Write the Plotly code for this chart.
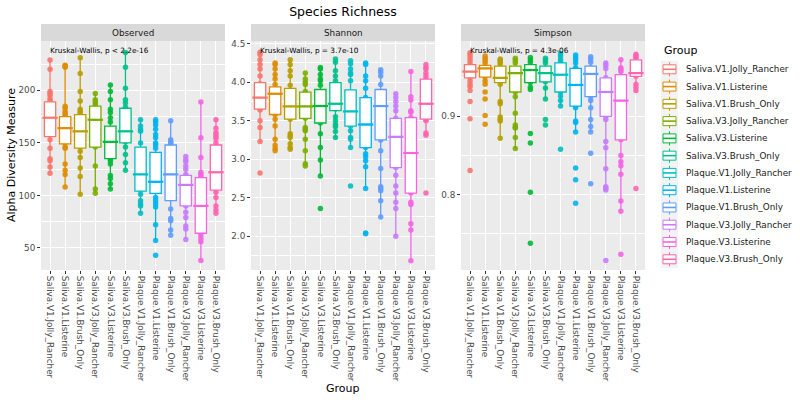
import plotly.graph_objects as go

GROUPS = ["Saliva.V1.Jolly_Rancher", "Saliva.V1.Listerine", "Saliva.V1.Brush_Only",
          "Saliva.V3.Jolly_Rancher", "Saliva.V3.Listerine", "Saliva.V3.Brush_Only",
          "Plaque.V1.Jolly_Rancher", "Plaque.V1.Listerine", "Plaque.V1.Brush_Only",
          "Plaque.V3.Jolly_Rancher", "Plaque.V3.Listerine", "Plaque.V3.Brush_Only"]
COLORS = ["#F8766D", "#DE8C00", "#B79F00", "#7CAE00", "#00BA38", "#00C08B",
          "#00BFC4", "#00B4F0", "#619CFF", "#C77CFF", "#F564E3", "#FF64B0"]
METRICS = ["Observed", "Shannon", "Simpson"]
PVALUES = ["Kruskal-Wallis, p < 2.2e-16", "Kruskal-Wallis, p = 3.7e-10", "Kruskal-Wallis, p = 4.3e-06"]

# ---- Observed ----
OBS_POINTS = [
    [229, 220, 199, 197, 195, 192, 190, 186, 181, 176, 172, 168, 163, 158, 153, 145, 135, 133, 127, 121],
    [224, 223, 222, 185, 183, 180, 178, 176, 172, 168, 160, 155, 150, 146, 145, 130, 124, 120, 108],
    [231, 216, 199, 190, 182, 180, 178, 170, 165, 158, 150, 146, 142, 136, 126, 118, 101],
    [197, 191, 189, 187, 185, 180, 175, 168, 160, 150, 146, 128, 106, 102],
    [205, 199, 191, 182, 179, 174, 170, 160, 150, 140, 135, 133, 130, 119, 116, 111, 106],
    [236, 222, 202, 191, 188, 184, 175, 165, 160, 155, 151, 146, 139, 131, 124],
    [172, 166, 163, 161, 150, 140, 130, 120, 110, 105, 101, 95, 92, 90, 83],
    [172, 170, 167, 163, 158, 155, 150, 148, 145, 130, 120, 110, 105, 98, 95, 92, 89, 72, 57, 43],
    [171, 153, 151, 150, 149, 140, 125, 115, 105, 97, 87, 78, 76, 67, 62],
    [137, 134, 132, 128, 125, 120, 115, 110, 100, 92, 90, 84, 79, 71, 68, 58],
    [189, 155, 136, 122, 120, 118, 110, 100, 90, 80, 70, 65, 62, 59, 56, 38],
    [172, 164, 160, 158, 156, 154, 150, 140, 125, 115, 106, 103, 98, 90, 86, 83],
]
OBS_Q1 = [156, 149, 145, 146, 135, 150, 104, 102, 95, 90, 64, 105]
OBS_MED = [174, 164, 161, 172, 151, 161, 120, 113, 120, 110, 90, 122]
OBS_Q3 = [189, 175, 177, 185, 166, 183, 146, 141, 148, 119, 117, 148]
OBS_LO = [121, 108, 101, 102, 106, 124, 83, 57, 62, 58, 38, 83]
OBS_HI = [229, 224, 231, 197, 205, 236, 172, 172, 171, 137, 189, 172]

# ---- Shannon ----
SHA_POINTS = [
    [4.39, 4.36, 4.29, 4.23, 4.17, 4.08, 3.98, 3.90, 3.80, 3.72, 3.66, 3.64, 3.50, 3.41, 3.23, 2.82],
    [4.25, 4.23, 4.17, 4.10, 4.04, 3.97, 3.92, 3.85, 3.75, 3.65, 3.58, 3.52, 3.43, 3.26, 3.18, 3.14, 3.11],
    [4.29, 4.23, 4.15, 4.08, 3.96, 3.88, 3.78, 3.69, 3.60, 3.52, 3.33, 3.30, 3.28, 3.20, 3.15, 3.13],
    [4.12, 4.04, 4.00, 3.97, 3.88, 3.75, 3.69, 3.60, 3.53, 3.41, 3.39, 3.37, 3.26, 3.11, 2.94, 2.91],
    [4.19, 4.17, 4.10, 4.04, 4.02, 3.96, 3.85, 3.69, 3.55, 3.47, 3.33, 3.15, 2.99, 2.78, 2.36],
    [4.30, 4.26, 4.15, 4.08, 4.02, 3.95, 3.85, 3.72, 3.65, 3.55, 3.50, 3.45, 3.42, 3.36, 3.28],
    [4.28, 4.24, 4.17, 4.12, 4.10, 4.02, 3.85, 3.62, 3.50, 3.43, 3.37, 3.28, 3.26, 3.15, 2.65],
    [4.25, 4.23, 4.08, 4.02, 3.92, 3.80, 3.60, 3.45, 3.30, 3.15, 3.07, 3.03, 2.98, 2.90, 2.62, 2.04, 2.03],
    [4.16, 4.13, 4.08, 3.97, 3.80, 3.69, 3.50, 3.25, 3.11, 2.88, 2.64, 2.62, 2.59, 2.46, 2.25],
    [3.85, 3.80, 3.75, 3.69, 3.63, 3.53, 3.40, 3.29, 3.10, 2.89, 2.79, 2.65, 2.56, 2.44, 2.36, 2.00],
    [4.14, 3.81, 3.77, 3.63, 3.61, 3.54, 3.30, 3.08, 2.80, 2.56, 2.44, 2.41, 2.16, 2.08, 1.68],
    [4.23, 4.19, 4.17, 4.12, 4.08, 4.04, 3.90, 3.72, 3.60, 3.52, 3.50, 3.34, 3.31, 2.56],
]
SHA_Q1 = [3.65, 3.58, 3.52, 3.53, 3.47, 3.63, 3.43, 3.15, 3.25, 2.89, 2.56, 3.52]
SHA_MED = [3.80, 3.85, 3.685, 3.685, 3.69, 3.72, 3.62, 3.45, 3.69, 3.29, 3.08, 3.72]
SHA_Q3 = [3.995, 3.94, 3.92, 3.87, 3.905, 3.995, 3.90, 3.80, 3.905, 3.53, 3.54, 4.04]
SHA_LO = [3.23, 3.11, 3.13, 2.91, 2.78, 3.28, 3.15, 2.62, 2.25, 2.00, 1.68, 3.31]
SHA_HI = [4.39, 4.25, 4.29, 4.12, 4.19, 4.30, 4.28, 4.25, 4.16, 3.85, 4.14, 4.23]

# ---- Simpson ----
SIM_POINTS = [
    [0.981, 0.978, 0.975, 0.971, 0.967, 0.960, 0.953, 0.949, 0.945, 0.941, 0.938, 0.933, 0.919, 0.897, 0.831],
    [0.977, 0.974, 0.971, 0.968, 0.962, 0.955, 0.950, 0.945, 0.941, 0.931, 0.922, 0.901, 0.890],
    [0.973, 0.971, 0.969, 0.966, 0.955, 0.946, 0.941, 0.919, 0.916, 0.899, 0.896, 0.894, 0.872],
    [0.974, 0.971, 0.968, 0.960, 0.950, 0.940, 0.931, 0.925, 0.904, 0.889, 0.886, 0.885, 0.873, 0.859],
    [0.975, 0.972, 0.969, 0.962, 0.952, 0.943, 0.937, 0.934, 0.878, 0.866, 0.803, 0.738],
    [0.974, 0.971, 0.968, 0.960, 0.950, 0.944, 0.936, 0.922, 0.896, 0.889],
    [0.980, 0.977, 0.973, 0.970, 0.960, 0.945, 0.931, 0.926, 0.920, 0.913, 0.858],
    [0.978, 0.975, 0.972, 0.968, 0.962, 0.950, 0.930, 0.913, 0.911, 0.894, 0.892, 0.880, 0.834, 0.819, 0.789],
    [0.976, 0.973, 0.969, 0.962, 0.945, 0.925, 0.920, 0.911, 0.896, 0.887, 0.880, 0.853, 0.814],
    [0.968, 0.965, 0.961, 0.949, 0.935, 0.915, 0.900, 0.896, 0.868, 0.860, 0.833, 0.810, 0.808, 0.806, 0.716],
    [0.972, 0.962, 0.960, 0.957, 0.950, 0.930, 0.900, 0.870, 0.850, 0.842, 0.837, 0.826, 0.792, 0.779, 0.724],
    [0.979, 0.977, 0.975, 0.972, 0.965, 0.955, 0.951, 0.941, 0.937, 0.933, 0.808],
]
SIM_Q1 = [0.949, 0.950, 0.943, 0.931, 0.943, 0.944, 0.931, 0.913, 0.925, 0.900, 0.870, 0.951]
SIM_MED = [0.957, 0.961, 0.949, 0.955, 0.959, 0.955, 0.953, 0.940, 0.954, 0.931, 0.920, 0.955]
SIM_Q3 = [0.966, 0.965, 0.964, 0.964, 0.966, 0.964, 0.968, 0.961, 0.964, 0.949, 0.953, 0.972]
SIM_LO = [0.936, 0.941, 0.872, 0.859, 0.934, 0.922, 0.913, 0.880, 0.880, 0.806, 0.779, 0.930]
SIM_HI = [0.981, 0.977, 0.973, 0.974, 0.975, 0.974, 0.980, 0.978, 0.976, 0.968, 0.972, 0.979]

Y_RANGES = [[29, 247], [1.56, 4.535], [0.704, 0.996]]
Y_DTICK = [50, 0.5, 0.1]
Y_FORMAT = ["d", ".1f", ".1f"]

DATA = [
    (OBS_POINTS, OBS_Q1, OBS_MED, OBS_Q3, OBS_LO, OBS_HI),
    (SHA_POINTS, SHA_Q1, SHA_MED, SHA_Q3, SHA_LO, SHA_HI),
    (SIM_POINTS, SIM_Q1, SIM_MED, SIM_Q3, SIM_LO, SIM_HI),
]

FONT = "DejaVu Sans"
W, H = 800, 400
X_DOMAINS = [[41 / W, 225 / W], [251 / W, 435 / W], [461 / W, 645 / W]]
Y_DOMAIN = [1 - 270 / H, 1 - 41 / H]
STRIP = [1 - 41 / H, 1 - 24 / H]

fig = go.Figure()

for p, (pts, q1, med, q3, lo, hi) in enumerate(DATA):
    base = p + 1
    over = p + 4
    bx = "x" if base == 1 else f"x{base}"
    by = "y" if base == 1 else f"y{base}"
    ox, oy = f"x{over}", f"y{over}"
    # points (base layer, below the boxes)
    for g, name in enumerate(GROUPS):
        fig.add_trace(go.Scatter(
            x=[name] * len(pts[g]), y=pts[g], mode="markers",
            marker=dict(color=COLORS[g], size=5.5, opacity=0.9),
            xaxis=bx, yaxis=by, showlegend=False, hoverinfo="skip"))
    # boxes (overlay layer, above the points)
    for g, name in enumerate(GROUPS):
        fig.add_trace(go.Box(
            x=[name], q1=[q1[g]], median=[med[g]], q3=[q3[g]],
            lowerfence=[lo[g]], upperfence=[hi[g]],
            name=name, showlegend=False,
            fillcolor="white", line=dict(color=COLORS[g], width=1.3),
            whiskerwidth=0, width=0.75, boxpoints=False,
            xaxis=ox, yaxis=oy))
    # thick medians
    fig.add_trace(go.Scatter(
        x=GROUPS, y=med, mode="markers",
        marker=dict(symbol="line-ew", size=11, color=COLORS,
                    line=dict(color=COLORS, width=2.2)),
        xaxis=ox, yaxis=oy, showlegend=False, hoverinfo="skip"))

common_x = dict(type="category", categoryorder="array", categoryarray=GROUPS,
                range=[-0.6, 11.6], automargin=False)
layout = dict(
    width=W, height=H, margin=dict(l=0, r=0, t=0, b=0, autoexpand=False),
    paper_bgcolor="white", plot_bgcolor="#EBEBEB",
    font=dict(family=FONT, color="#1A1A1A"),
    showlegend=False, boxmode="overlay",
    title=dict(text="Species Richness", x=343 / W, xanchor="center",
               y=1 - 12 / H, yanchor="middle", font=dict(size=12.5, color="black")),
)
shapes = []
annotations = []
for p in range(3):
    base = p + 1
    over = p + 4
    xk = "xaxis" if base == 1 else f"xaxis{base}"
    yk = "yaxis" if base == 1 else f"yaxis{base}"
    bx = "x" if base == 1 else f"x{base}"
    by = "y" if base == 1 else f"y{base}"
    layout[xk] = dict(**common_x, domain=X_DOMAINS[p], anchor=by,
                      tickangle=90, tickfont=dict(size=8.8, color="#4D4D4D"),
                      showgrid=True, gridcolor="white", gridwidth=1.1,
                      ticks="outside", ticklen=3, tickcolor="#333333",
                      zeroline=False, showline=False)
    layout[yk] = dict(domain=Y_DOMAIN, anchor=bx, range=Y_RANGES[p],
                      dtick=Y_DTICK[p], tick0=0, tickformat=Y_FORMAT[p],
                      automargin=False,
                      tickfont=dict(size=8.8, color="#4D4D4D"),
                      showgrid=True, gridcolor="white", gridwidth=1.1,
                      minor=dict(dtick=Y_DTICK[p] / 2, showgrid=True,
                                 gridcolor="white", gridwidth=0.5),
                      ticks="outside", ticklen=3, tickcolor="#333333",
                      zeroline=False, showline=False)
    layout[f"xaxis{over}"] = dict(**common_x, overlaying=bx, anchor=f"y{over}",
                                  visible=False)
    layout[f"yaxis{over}"] = dict(range=Y_RANGES[p], overlaying=by,
                                  anchor=f"x{over}", visible=False, automargin=False)
    shapes.append(dict(type="rect", xref=f"{bx} domain", yref="paper",
                       x0=0, x1=1, y0=STRIP[0], y1=STRIP[1],
                       fillcolor="#D9D9D9", line=dict(width=0), layer="below"))
    annotations.append(dict(text=METRICS[p], xref=f"{bx} domain", yref="paper",
                            x=0.5, y=(STRIP[0] + STRIP[1]) / 2, showarrow=False,
                            xanchor="center", yanchor="middle",
                            font=dict(size=8.8, color="#1A1A1A")))
    annotations.append(dict(text=PVALUES[p], xref=bx, yref=f"{by} domain",
                            x=GROUPS[0], y=0.957, showarrow=False,
                            xanchor="left", yanchor="middle", xshift=-2,
                            font=dict(size=7.3, color="black")))

annotations.append(dict(text="Alpha Diversity Measure", xref="paper", yref="paper",
                        x=12 / W, y=1 - 155 / H, textangle=-90, showarrow=False,
                        xanchor="center", yanchor="middle",
                        font=dict(size=11, color="black")))
annotations.append(dict(text="Group", xref="paper", yref="paper",
                        x=343 / W, y=1 - 388 / H, showarrow=False,
                        xanchor="center", yanchor="middle",
                        font=dict(size=11, color="black")))

# manual ggplot-style legend
LEG_X0, LEG_TOP, LEG_STEP = 662, 69.3, 17.27
annotations.append(dict(text="Group", xref="paper", yref="paper",
                        x=LEG_X0 / W, y=1 - 50 / H, showarrow=False,
                        xanchor="left", yanchor="middle",
                        font=dict(size=11, color="black")))
for g, name in enumerate(GROUPS):
    cy = LEG_TOP + g * LEG_STEP
    shapes.append(dict(type="rect", xref="paper", yref="paper",
                       x0=(LEG_X0 - 1) / W, x1=(LEG_X0 + 16) / W,
                       y0=1 - (cy + 8.6) / H, y1=1 - (cy - 8.6) / H,
                       fillcolor="#F2F2F2", line=dict(width=0)))
    shapes.append(dict(type="line", xref="paper", yref="paper",
                       x0=(LEG_X0 + 7.5) / W, x1=(LEG_X0 + 7.5) / W,
                       y0=1 - (cy + 7) / H, y1=1 - (cy - 7) / H,
                       line=dict(color=COLORS[g], width=1)))
    shapes.append(dict(type="rect", xref="paper", yref="paper",
                       x0=(LEG_X0 + 1) / W, x1=(LEG_X0 + 14) / W,
                       y0=1 - (cy + 4.5) / H, y1=1 - (cy - 4.5) / H,
                       fillcolor="white", line=dict(color=COLORS[g], width=1)))
    shapes.append(dict(type="line", xref="paper", yref="paper",
                       x0=(LEG_X0 + 1) / W, x1=(LEG_X0 + 14) / W,
                       y0=1 - cy / H, y1=1 - cy / H,
                       line=dict(color=COLORS[g], width=1.6)))
    annotations.append(dict(text=name, xref="paper", yref="paper",
                            x=684 / W, y=1 - cy / H, showarrow=False,
                            xanchor="left", yanchor="middle",
                            font=dict(size=8.8, color="#1A1A1A")))

layout["shapes"] = shapes
layout["annotations"] = annotations
fig.update_layout(**layout)

fig.write_html("out.html", config={"displayModeBar": False},
               post_script="document.body.style.margin='0';document.body.style.overflow='hidden';")
